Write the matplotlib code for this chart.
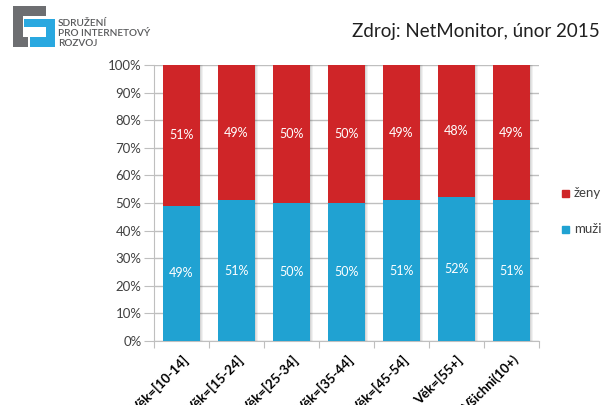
import matplotlib
matplotlib.use('Agg')
import matplotlib.pyplot as plt
from matplotlib.patches import Rectangle
import numpy as np

plt.rcParams['font.family'] = ['Lato', 'DejaVu Sans']

categories = ['Věk=[10-14]', 'Věk=[15-24]', 'Věk=[25-34]', 'Věk=[35-44]',
              'Věk=[45-54]', 'Věk=[55+]', 'Všichni(10+)']
muzi = [49, 51, 50, 50, 51, 52, 51]
zeny = [51, 49, 50, 50, 49, 48, 49]

RED = '#cf2528'
BLUE = '#20a2d2'
GRID = '#bfbfbf'

fig = plt.figure(figsize=(6.09, 4.05), dpi=100)
ax = fig.add_axes([154 / 609, 1 - 341 / 405, 385 / 609, 276 / 405])

x = np.arange(len(categories))
w = 0.67

# soft shadow on the right side of the bars
for k, a in enumerate([0.22, 0.14, 0.07]):
    ax.bar(x + w / 2 + 0.018 * k + 0.009, 100, width=0.018, color='#404040',
           alpha=a, linewidth=0, zorder=2)

ax.bar(x, muzi, width=w, color=BLUE, zorder=3, label='muži')
ax.bar(x, zeny, width=w, bottom=muzi, color=RED, zorder=3, label='ženy')

for i in range(len(categories)):
    ax.text(x[i], muzi[i] / 2, f'{muzi[i]}%', ha='center', va='center',
            color='white', fontsize=9, zorder=4)
    ax.text(x[i], muzi[i] + zeny[i] / 2, f'{zeny[i]}%', ha='center', va='center',
            color='white', fontsize=9, zorder=4)

ax.set_xlim(-0.5, len(categories) - 0.5)
ax.set_ylim(0, 100)
ax.set_yticks(np.arange(0, 101, 10))
ax.set_yticklabels([f'{v}%' for v in range(0, 101, 10)], fontsize=9.5, color='#404040')
ax.yaxis.grid(True, color=GRID, linewidth=1, zorder=0)
ax.set_axisbelow(True)
ax.tick_params(axis='y', length=7, color=GRID, pad=2)

ax.set_xticks(np.arange(-0.5, len(categories), 1))
ax.set_xticklabels([])
ax.tick_params(axis='x', length=5, color=GRID)
ax.set_xticks(x, minor=True)
ax.set_xticklabels(categories, minor=True, rotation=45, ha='right',
                   rotation_mode='anchor', fontsize=9.5, fontweight='bold')
ax.tick_params(axis='x', which='minor', length=0, pad=9)
for lbl in ax.get_xticklabels(minor=True):
    lbl.set_clip_on(False)

for s in ['top', 'right']:
    ax.spines[s].set_visible(False)
ax.spines['left'].set_color(GRID)
ax.spines['bottom'].set_color(GRID)

# legend
fig.patches.append(Rectangle((562 / 609, 1 - 197 / 405), 7 / 609, 7 / 405,
                             transform=fig.transFigure, color=RED))
fig.text(574 / 609, 1 - 193 / 405, 'ženy', fontsize=9.5, va='center', color='#404040')
fig.patches.append(Rectangle((562 / 609, 1 - 233 / 405), 7 / 609, 7 / 405,
                             transform=fig.transFigure, color=BLUE))
fig.text(574 / 609, 1 - 229 / 405, 'muži', fontsize=9.5, va='center', color='#404040')

# source title
fig.text(600 / 609, 1 - 31 / 405, 'Zdroj: NetMonitor, únor 2015', ha='right',
         va='center', fontsize=13.5, color='#202020')

# logo
def px_rect(x0, y0, x1, y1, color):
    fig.patches.append(Rectangle((x0 / 609, 1 - y1 / 405), (x1 - x0) / 609,
                                 (y1 - y0) / 405, transform=fig.transFigure,
                                 color=color, linewidth=0))

LGRAY = '#6d6e71'
LBLUE = '#29a8e0'
px_rect(13, 6, 46, 16, LGRAY)
px_rect(13, 6, 23, 47, LGRAY)
px_rect(13, 37, 28, 47, LGRAY)
px_rect(24, 19, 55, 27, LBLUE)
px_rect(46, 19, 55, 47, LBLUE)
px_rect(30, 37, 55, 47, LBLUE)
for txt, yy in [('SDRUŽENÍ', 23), ('PRO INTERNETOVÝ', 33), ('ROZVOJ', 43)]:
    fig.text(58 / 609, 1 - yy / 405, txt, fontsize=7.2, fontweight='semibold',
             va='center', color='#58595b')

fig.savefig('out.png', dpi=100)
